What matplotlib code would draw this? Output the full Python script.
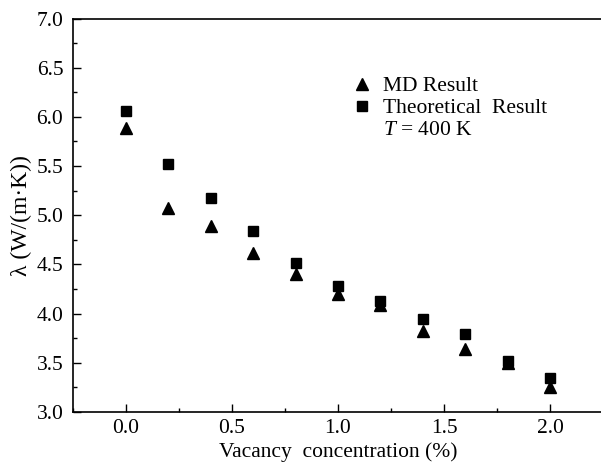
import matplotlib
matplotlib.use("Agg")
import matplotlib.pyplot as plt
from matplotlib.lines import Line2D
from matplotlib.ticker import MultipleLocator, FormatStrFormatter

plt.rcParams['font.family'] = ['Liberation Serif', 'DejaVu Serif']
plt.rcParams['mathtext.fontset'] = 'custom'
plt.rcParams['mathtext.rm'] = 'Liberation Serif'
plt.rcParams['mathtext.it'] = 'Liberation Serif:italic'

vacancy = [0.0, 0.2, 0.4, 0.6, 0.8, 1.0, 1.2, 1.4, 1.6, 1.8, 2.0]
md_result = [5.89, 5.07, 4.89, 4.62, 4.40, 4.20, 4.09, 3.82, 3.64, 3.50, 3.25]
theory_result = [6.06, 5.52, 5.18, 4.84, 4.51, 4.28, 4.13, 3.95, 3.79, 3.52, 3.35]

W, H = 601, 462
fig = plt.figure(figsize=(W / 100, H / 100), dpi=100)
ax = fig.add_axes([73 / W, (H - 412) / H, 530 / W, (412 - 18.5) / H])

ax.plot(vacancy, md_result, linestyle='none', marker='^', ms=8.5, color='black')
ax.plot(vacancy, theory_result, linestyle='none', marker='s', ms=6.5, color='black')

ax.set_xlim(-0.25, 2.25)
ax.set_ylim(3.0, 7.0)
ax.xaxis.set_major_locator(MultipleLocator(0.5))
ax.xaxis.set_minor_locator(MultipleLocator(0.25))
ax.yaxis.set_major_locator(MultipleLocator(0.5))
ax.yaxis.set_minor_locator(MultipleLocator(0.25))
ax.xaxis.set_major_formatter(FormatStrFormatter('%.1f'))
ax.yaxis.set_major_formatter(FormatStrFormatter('%.1f'))
ax.tick_params(which='major', direction='in', length=6, width=1, labelsize=15.5,
               top=False, right=False)
ax.tick_params(axis='y', which='major', pad=7)
ax.tick_params(axis='x', which='major', pad=5)
ax.tick_params(which='minor', direction='in', length=3, width=1, top=False, right=False)
for s in ax.spines.values():
    s.set_linewidth(1.2)

ax.set_xlabel('Vacancy  concentration (%)', fontsize=15.5, labelpad=3)
ax.set_ylabel('λ (W/(m·K))', fontsize=17, labelpad=3)

handles = [Line2D([], [], linestyle='none', marker='^', ms=8.5, color='black'),
           Line2D([], [], linestyle='none', marker='s', ms=6.5, color='black'),
           Line2D([], [], linestyle='none', marker=None, color='none')]
labels = ['MD Result', 'Theoretical  Result', '$T$ = 400 K']
ax.legend(handles, labels, loc='upper left', bbox_to_anchor=(0.525, 0.853),
          frameon=False, fontsize=15.5, handlelength=1.0, handletextpad=0.47,
          labelspacing=0.08, borderpad=0, borderaxespad=0)

fig.savefig('out.png', dpi=100)
